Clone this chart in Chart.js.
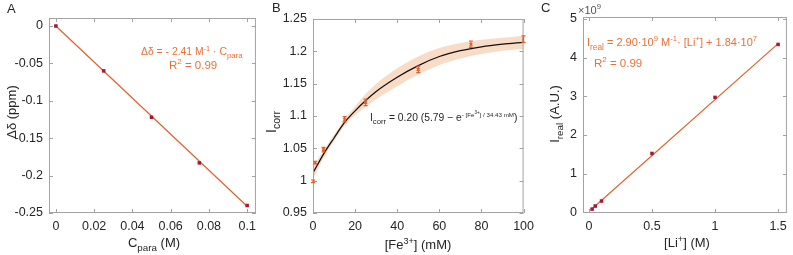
<!DOCTYPE html>
<html>
<head>
<meta charset="utf-8">
<script src="https://cdn.jsdelivr.net/npm/chart.js@4"></script>
<style>
  body { margin: 0; background: #fff; width: 793px; height: 255px; overflow: hidden; position: relative; }
  canvas { position: absolute; top: 0; }
</style>
</head>
<body>
<canvas id="chartA" width="262" height="255" style="left:0px"></canvas>
<canvas id="chartB" width="278" height="255" style="left:262px"></canvas>
<canvas id="chartC" width="253" height="255" style="left:540px"></canvas>
<script>
// panel A: shift vs paramagnetic concentration
const aConc = [0, 0.025, 0.05, 0.075, 0.1];
const aShift = [0, -0.06, -0.122, -0.183, -0.24];
const aFitX = [0, 0.1];
const aFitY = [0, -0.241];
const aXTicks = [0, 0.02, 0.04, 0.06, 0.08, 0.1];
const aYTicks = [0, -0.05, -0.1, -0.15, -0.2, -0.25];

// panel B: corrected intensity vs Fe3+
const bFe = [0, 1, 5, 15, 25, 50, 75, 100];
const bCorr = [0.999, 1.028, 1.048, 1.095, 1.121, 1.172, 1.211, 1.219];
const bErr = [0.002, 0.002, 0.0035, 0.004, 0.005, 0.005, 0.005, 0.005];
const bCurveX = [0, 5, 10, 15, 20, 25, 30, 40, 50, 60, 70, 80, 90, 100];
const bCurveY = [1.012, 1.041, 1.066, 1.090, 1.108, 1.124, 1.138, 1.160, 1.178, 1.192, 1.201, 1.207, 1.211, 1.214];
const bBandHi = [1.022, 1.047, 1.071, 1.095, 1.115, 1.134, 1.150, 1.174, 1.192, 1.205, 1.213, 1.218, 1.221, 1.224];
const bBandLo = [1.002, 1.035, 1.061, 1.085, 1.101, 1.114, 1.126, 1.146, 1.164, 1.179, 1.189, 1.196, 1.201, 1.204];
const bXTicks = [0, 20, 40, 60, 80, 100];
const bYTicks = [0.95, 1, 1.05, 1.1, 1.15, 1.2, 1.25];

// panel C: intensity (x 1e9) vs Li+
const cLi = [0.025, 0.05, 0.1, 0.5, 1, 1.5];
const cInt = [0.08, 0.16, 0.29, 1.52, 2.97, 4.34];
const cFitX = [0.025, 1.5];
const cFitY = [0.09, 4.36];
const cXTicks = [0, 0.5, 1, 1.5];
const cYTicks = [0, 1, 2, 3, 4, 5];

const FONT = '"Liberation Sans", Arial, sans-serif';
const AX = '#a3a3a3';
const TXT = '#262626';
const ORANGE = '#e4602a';
const ORANGE_TXT = '#ec6f36';
const DARKRED = '#a8173a';

Chart.defaults.font.family = FONT;

const pts = (xs, ys) => xs.map((x, i) => ({ x, y: ys[i] }));
const fmt = v => Math.abs(v) < 1e-9 ? '0' : String(+v.toFixed(4));

function scaleOpts(min, max, ticks, pos, size) {
  return {
    type: 'linear', position: pos, min, max,
    grid: { display: false, drawTicks: false },
    border: { display: false },
    ticks: { color: TXT, font: { size: 12.5 }, padding: 6, autoSkip: false, maxRotation: 0, callback: fmt },
    afterBuildTicks: s => { s.ticks = ticks.map(v => ({ value: v })); },
    afterFit: s => { if (pos === 'left') s.width = size; else s.height = size; }
  };
}

// text with sub/superscripts; level 0 normal, -1 sub, 1 sup, 3 small sup, 4 sup of sup
function rich(ctx, x, y, parts, size, color, align) {
  const spec = { '0': [1, 0], '1': [0.7, -0.42], '-1': [0.75, 0.32], '3': [0.6, -0.42], '4': [0.45, -0.68] };
  ctx.save();
  ctx.fillStyle = color;
  ctx.textBaseline = 'alphabetic';
  ctx.textAlign = 'left';
  const items = parts.map(([t, l]) => {
    const [k, dy] = spec[l];
    const f = (size * k).toFixed(1) + 'px ' + FONT;
    ctx.font = f;
    return { t, f, dy: dy * size, w: ctx.measureText(t).width };
  });
  const total = items.reduce((s, i) => s + i.w, 0);
  let cx = align === 'center' ? x - total / 2 : x;
  items.forEach(i => { ctx.font = i.f; ctx.fillText(i.t, cx, y + i.dy); cx += i.w; });
  ctx.restore();
}

function vtitle(ctx, x, y, parts, size) {
  ctx.save();
  ctx.translate(x, y);
  ctx.rotate(-Math.PI / 2);
  rich(ctx, 0, 0, parts, size, TXT, 'center');
  ctx.restore();
}

// box, inward ticks and the texts of each panel
function deco(off, draw) {
  return {
    id: 'deco',
    afterDatasetsDraw(chart) {
      const { ctx, chartArea: a, scales: { x, y } } = chart;
      ctx.save();
      ctx.strokeStyle = AX;
      ctx.lineWidth = 1;
      ctx.strokeRect(a.left + 0.5, a.top + 0.5, a.width - 1, a.height - 1);
      ctx.beginPath();
      x.ticks.forEach(t => {
        const p = Math.round(x.getPixelForValue(t.value)) + 0.5;
        ctx.moveTo(p, a.bottom); ctx.lineTo(p, a.bottom - 4);
        ctx.moveTo(p, a.top); ctx.lineTo(p, a.top + 4);
      });
      y.ticks.forEach(t => {
        const p = Math.round(y.getPixelForValue(t.value)) + 0.5;
        ctx.moveTo(a.left, p); ctx.lineTo(a.left + 4, p);
        ctx.moveTo(a.right, p); ctx.lineTo(a.right - 4, p);
      });
      ctx.stroke();
      ctx.translate(-off, 0);
      draw(ctx, chart);
      ctx.restore();
    }
  };
}

function layout(top, right) {
  return { padding: { top, right, left: 0, bottom: 0 } };
}

const common = {
  responsive: false,
  animation: false,
  plugins: { legend: { display: false }, tooltip: { enabled: false } }
};

// A
new Chart(document.getElementById('chartA'), {
  type: 'scatter',
  data: {
    datasets: [
      { data: pts(aConc, aShift), pointStyle: 'rect', pointRadius: 2.5, backgroundColor: DARKRED, borderColor: DARKRED, borderWidth: 0 },
      { data: pts(aFitX, aFitY), showLine: true, borderColor: ORANGE, borderWidth: 1.2, pointRadius: 0 }
    ]
  },
  options: {
    ...common,
    layout: layout(18, 2),
    scales: {
      x: scaleOpts(-0.0036, 0.1046, aXTicks, 'bottom', 42),
      y: scaleOpts(-0.25, 0.0107, aYTicks, 'left', 49)
    }
  },
  plugins: [deco(0, ctx => {
    rich(ctx, 7, 13, [['A', 0]], 13, TXT);
    rich(ctx, 154, 247, [['C', 0], ['para', -1], [' (M)', 0]], 13, TXT, 'center');
    vtitle(ctx, 16, 112, [['Δδ (ppm)', 0]], 13);
    rich(ctx, 141, 55, [['Δδ = - 2.41 M', 0], ['-1', 1], [' · C', 0], ['para', -1]], 10.4, ORANGE_TXT);
    rich(ctx, 169, 69, [['R', 0], ['2', 1], [' = 0.99', 0]], 11.5, ORANGE_TXT);
  })]
});

// B
new Chart(document.getElementById('chartB'), {
  type: 'scatter',
  data: {
    datasets: [
      { data: pts(bFe, bCorr), pointStyle: 'crossRot', pointRadius: 2, borderColor: ORANGE, borderWidth: 1.2 },
      { data: pts(bCurveX, bCurveY), showLine: true, cubicInterpolationMode: 'monotone', borderColor: '#111', borderWidth: 1.3, pointRadius: 0 },
      { data: pts(bCurveX, bBandHi), showLine: true, cubicInterpolationMode: 'monotone', borderWidth: 0, pointRadius: 0, fill: '+1', backgroundColor: '#f8dcc6' },
      { data: pts(bCurveX, bBandLo), showLine: true, cubicInterpolationMode: 'monotone', borderWidth: 0, pointRadius: 0 }
    ]
  },
  options: {
    ...common,
    layout: layout(19, 12),
    scales: {
      x: scaleOpts(0, 100, bXTicks, 'bottom', 42),
      y: scaleOpts(0.95, 1.25, bYTicks, 'left', 51)
    }
  },
  plugins: [deco(262, (ctx, chart) => {
    const { x, y } = chart.scales;
    ctx.save();
    ctx.translate(262, 0);
    ctx.strokeStyle = ORANGE;
    ctx.lineWidth = 1.2;
    ctx.beginPath();
    bFe.forEach((v, i) => {
      const px = x.getPixelForValue(v);
      const hi = y.getPixelForValue(bCorr[i] + bErr[i]);
      const lo = y.getPixelForValue(bCorr[i] - bErr[i]);
      ctx.moveTo(px, hi); ctx.lineTo(px, lo);
      ctx.moveTo(px - 2, hi); ctx.lineTo(px + 2, hi);
      ctx.moveTo(px - 2, lo); ctx.lineTo(px + 2, lo);
    });
    ctx.stroke();
    ctx.restore();
    rich(ctx, 272, 12, [['B', 0]], 13, TXT);
    rich(ctx, 418, 249, [['[Fe', 0], ['3+', 1], ['] (mM)', 0]], 13, TXT, 'center');
    vtitle(ctx, 276, 122, [['I', 0], ['corr', -1]], 14);
    rich(ctx, 370, 121, [['I', 0], ['corr', -1], [' = 0.20 (5.79 \u2212 e', 0], ['- [Fe', 3], ['3+', 4], ['] / 34.43 mM', 3], [')', 0]], 10.3, TXT);
  })]
});

// C
new Chart(document.getElementById('chartC'), {
  type: 'scatter',
  data: {
    datasets: [
      { data: pts(cLi, cInt), pointStyle: 'rect', pointRadius: 2.5, backgroundColor: DARKRED, borderColor: DARKRED, borderWidth: 0 },
      { data: pts(cFitX, cFitY), showLine: true, borderColor: ORANGE, borderWidth: 1.2, pointRadius: 0 }
    ]
  },
  options: {
    ...common,
    layout: layout(17, 5),
    scales: {
      x: scaleOpts(-0.047, 1.57, cXTicks, 'bottom', 42),
      y: scaleOpts(-0.02, 5.05, cYTicks, 'left', 43)
    }
  },
  plugins: [deco(540, ctx => {
    rich(ctx, 541, 12, [['C', 0]], 13, TXT);
    rich(ctx, 578, 14, [['\u00d710', 0], ['9', 1]], 11, '#555');
    rich(ctx, 687, 247, [['[Li', 0], ['+', 1], ['] (M)', 0]], 13, TXT, 'center');
    vtitle(ctx, 559, 114, [['I', 0], ['real', -1], [' (A.U.)', 0]], 13);
    rich(ctx, 587, 46, [['I', 0], ['real', -1], [' = 2.90\u00b710', 0], ['9', 1], [' M', 0], ['-1', 1], ['\u00b7 [Li', 0], ['+', 1], ['] + 1.84\u00b710', 0], ['7', 1]], 11, ORANGE_TXT);
    rich(ctx, 594, 67, [['R', 0], ['2', 1], [' = 0.99', 0]], 11.5, ORANGE_TXT);
  })]
});
</script>
</body>
</html>
